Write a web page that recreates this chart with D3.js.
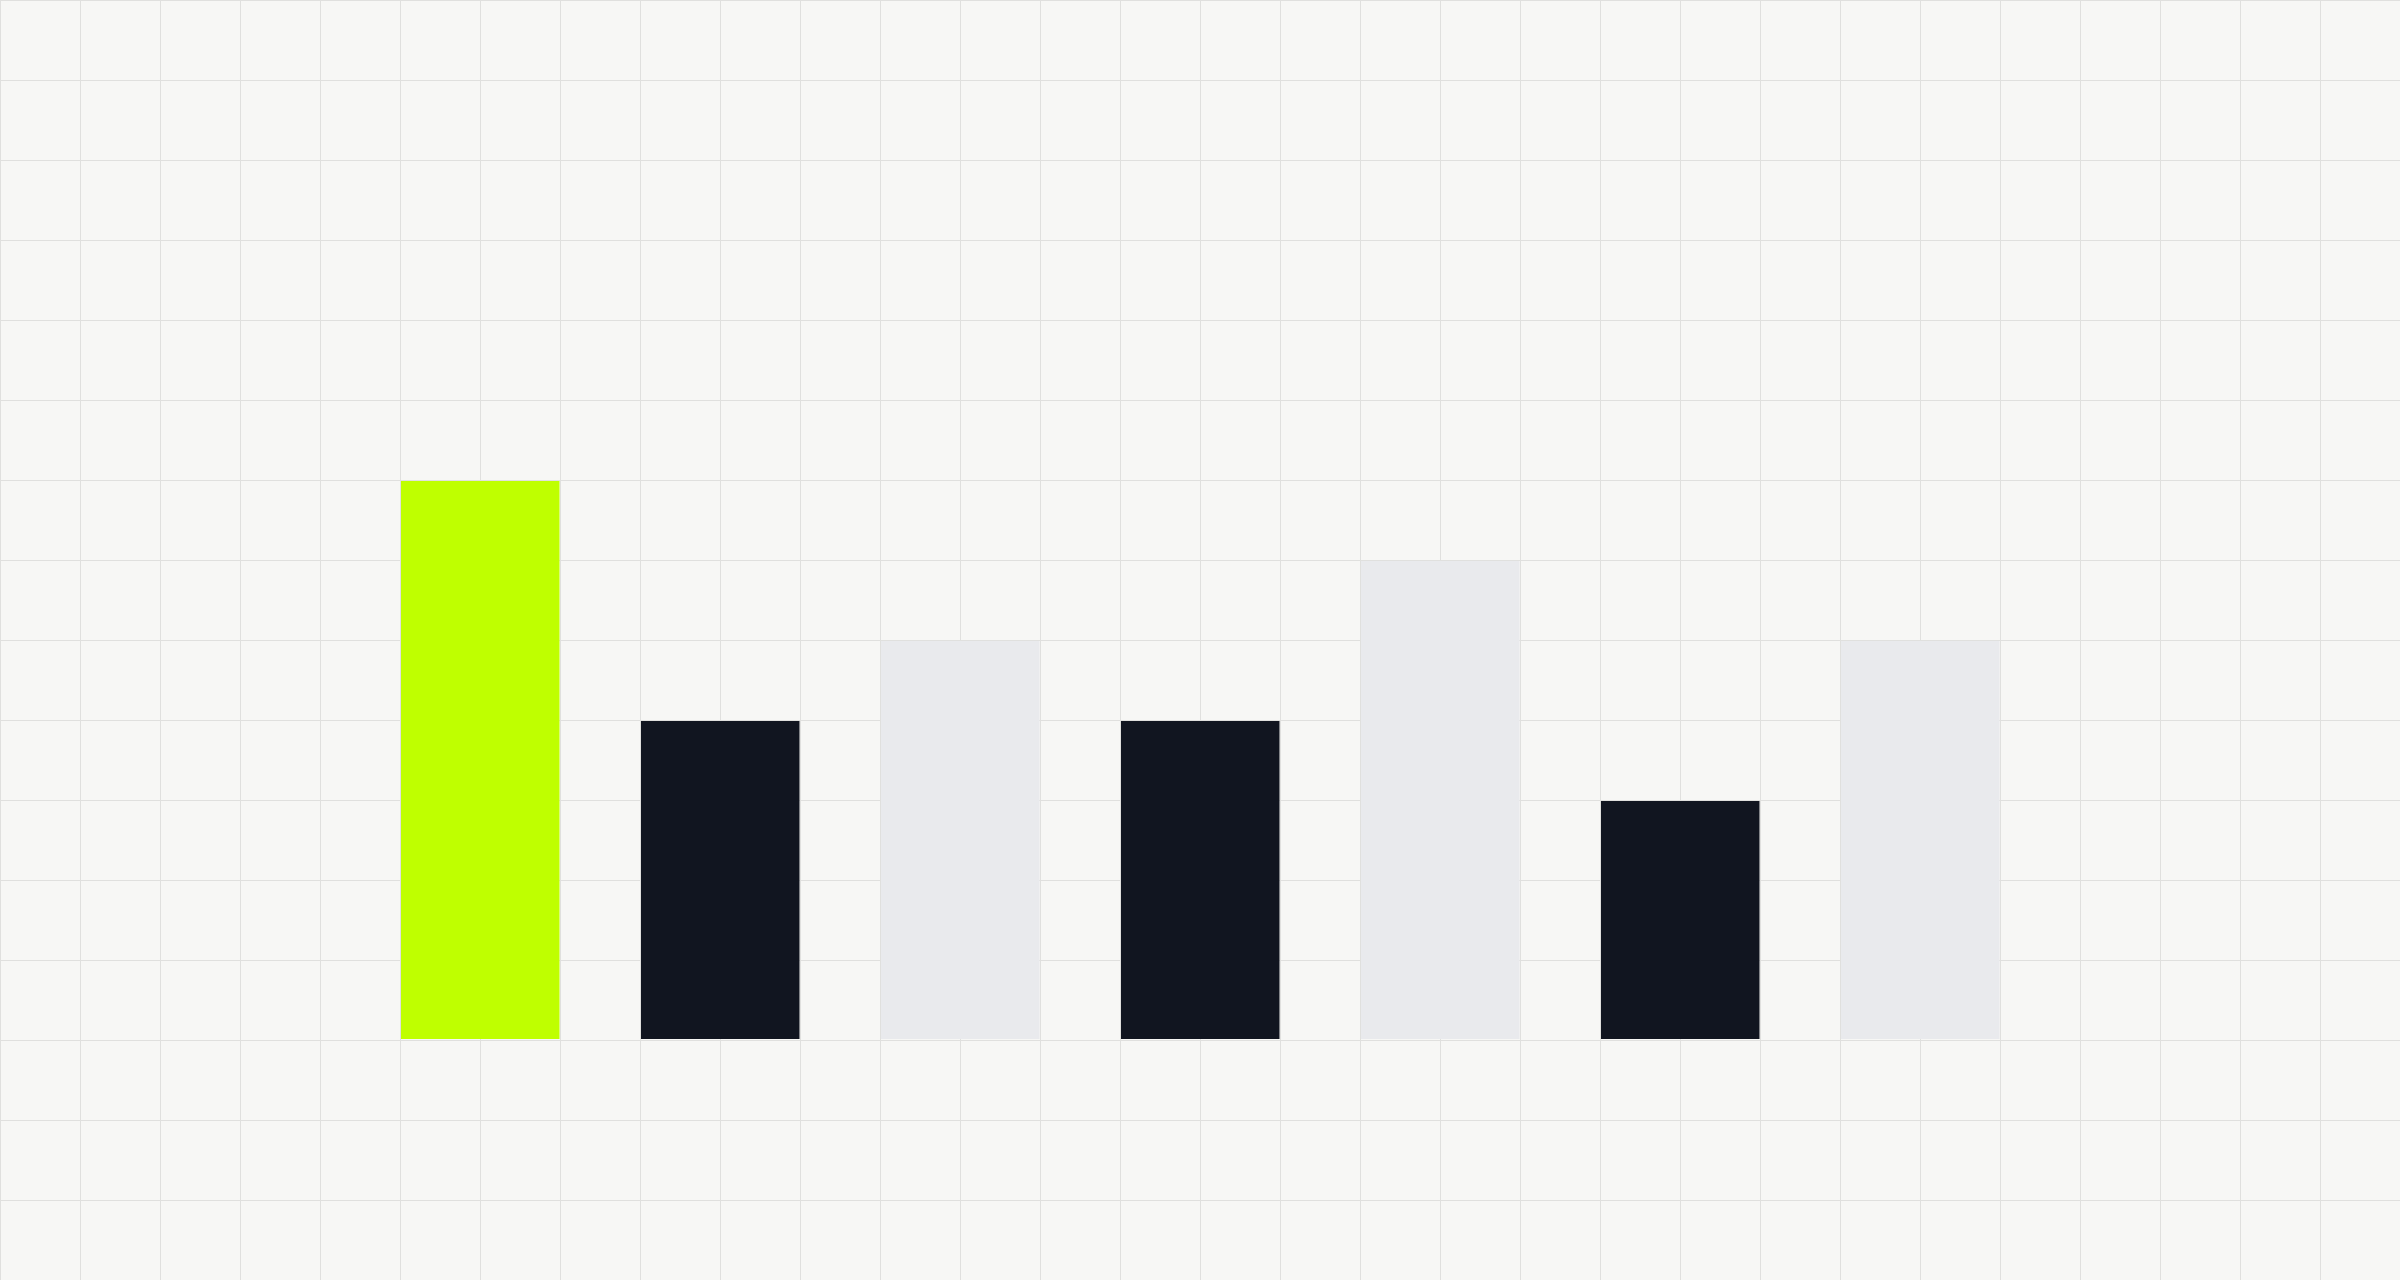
<!DOCTYPE html>
<html>
<head>
<meta charset="utf-8">
<script src="https://cdn.jsdelivr.net/npm/d3@7"></script>
<style>
  html, body { margin: 0; padding: 0; background: #f7f7f5; }
  svg { display: block; }
</style>
</head>
<body>
<svg id="chart" width="2400" height="1280"></svg>
<script>
// bar data (heights in grid cells)
const categories = ["A", "B", "C", "D", "E", "F", "G"];
const values = [7, 4, 5, 4, 6, 3, 5];
const kinds = ["highlight", "dark", "light", "dark", "light", "dark", "light"];

const W = 2400, H = 1280, cell = 80;

const svg = d3.select("#chart");

svg.append("rect")
  .attr("width", W)
  .attr("height", H)
  .attr("fill", "#f7f7f5");

// background grid
const grid = svg.append("g")
  .attr("stroke", "#e0e0de")
  .attr("stroke-width", 1);

grid.selectAll(".vline")
  .data(d3.range(0, W / cell + 1))
  .join("line")
  .attr("class", "vline")
  .attr("x1", d => d * cell + 0.5)
  .attr("x2", d => d * cell + 0.5)
  .attr("y1", 0)
  .attr("y2", H);

grid.selectAll(".hline")
  .data(d3.range(0, H / cell + 1))
  .join("line")
  .attr("class", "hline")
  .attr("x1", 0)
  .attr("x2", W)
  .attr("y1", d => d * cell + 0.5)
  .attr("y2", d => d * cell + 0.5);

// scales
const x = d3.scaleBand()
  .domain(categories)
  .range([400, 2000])
  .paddingInner(1 / 3)
  .paddingOuter(0);

const y = d3.scaleLinear()
  .domain([0, 13])
  .range([1040, 0]);

const color = d3.scaleOrdinal()
  .domain(["highlight", "dark", "light"])
  .range(["#bfff00", "#111520", "#e9eaed"]);

const data = categories.map((c, i) => ({ cat: c, value: values[i], kind: kinds[i] }));

svg.append("g")
  .selectAll("rect")
  .data(data)
  .join("rect")
  .attr("x", d => x(d.cat) + 1)
  .attr("y", d => y(d.value) + 1)
  .attr("width", x.bandwidth() - 1.5)
  .attr("height", d => y(0) - y(d.value) - 2)
  .attr("fill", d => color(d.kind));
</script>
</body>
</html>
